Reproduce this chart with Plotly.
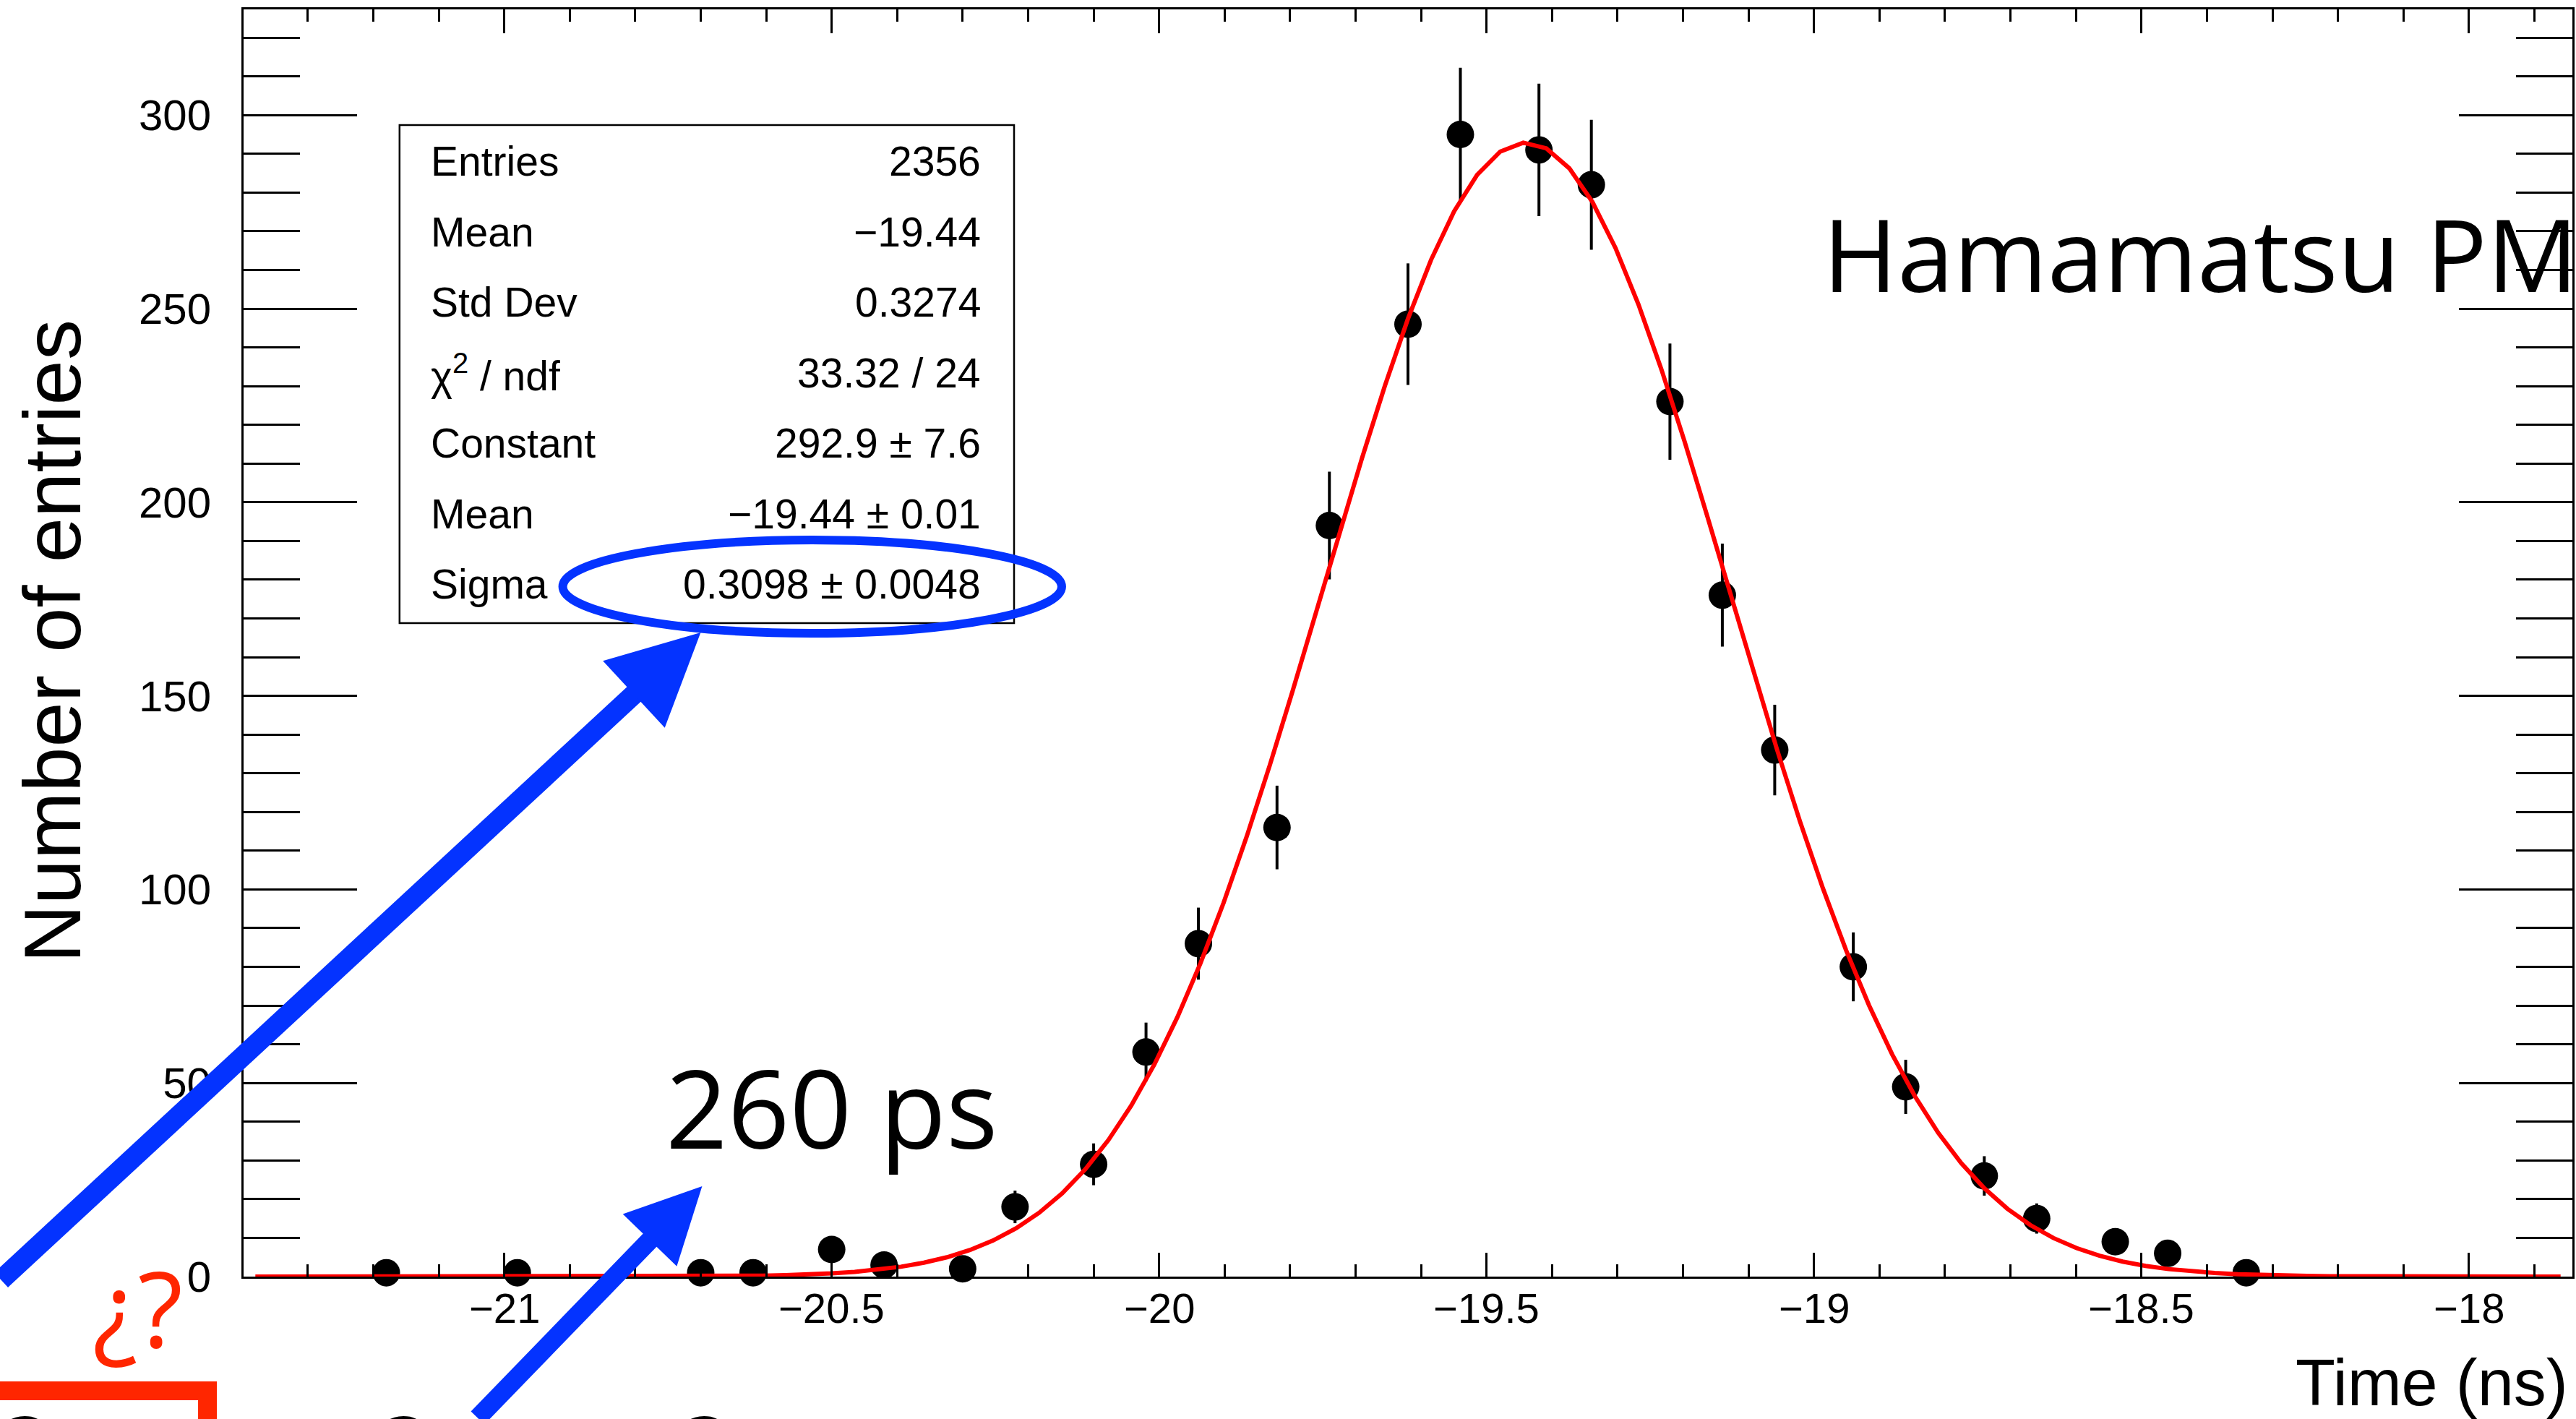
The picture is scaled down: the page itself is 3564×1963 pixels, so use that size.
import math
import plotly.graph_objects as go

# ---------------- data ----------------
bin_centers = [-21.18, -20.98, -20.70, -20.62, -20.50, -20.42, -20.30, -20.22,
               -20.10, -20.02, -19.94, -19.82, -19.74, -19.62, -19.54, -19.42,
               -19.34, -19.22, -19.14, -19.06, -18.94, -18.86, -18.74, -18.66,
               -18.54, -18.46, -18.34]
counts = [1, 1, 1, 1, 7, 3, 2, 18,
          29, 58, 86, 116, 194, 246, 295, 291,
          282, 226, 176, 136, 80, 49, 26, 15,
          9, 6, 1]
count_errors = [1.0, 1.0, 1.0, 1.0, 2.6, 1.7, 1.4, 4.2,
                5.4, 7.6, 9.3, 10.8, 13.9, 15.7, 17.2, 17.1,
                16.8, 15.0, 13.3, 11.7, 8.9, 7.0, 5.1, 3.9,
                3.0, 2.4, 1.0]

# Gaussian fit parameters (from the stat box)
FIT_CONSTANT = 292.9
FIT_MEAN = -19.44
FIT_SIGMA = 0.3098
FIT_RANGE = (-21.38, -17.86)
FIT_NPX = 100

x_tick_vals = [-21, -20.5, -20, -19.5, -19, -18.5, -18]
x_tick_text = ["\u221221", "\u221220.5", "\u221220", "\u221219.5", "\u221219", "\u221218.5", "\u221218"]

stat_labels = ["Entries", "Mean", "Std Dev", "\u03c7<sup>2</sup> / ndf",
               "Constant", "Mean", "Sigma"]
stat_values = ["2356", "\u221219.44", "0.3274", "33.32 / 24",
               "292.9 \u00b1 7.6", "\u221219.44 \u00b1 0.01", "0.3098 \u00b1 0.0048"]

x_title = "Time (ns)"
y_title = "Number of entries"

# ---------------- fit curve ----------------
fit_x = [FIT_RANGE[0] + (FIT_RANGE[1] - FIT_RANGE[0]) * i / FIT_NPX for i in range(FIT_NPX + 1)]
fit_y = [FIT_CONSTANT * math.exp(-0.5 * ((x - FIT_MEAN) / FIT_SIGMA) ** 2) for x in fit_x]

# ---------------- page geometry (pixels) ----------------
W, H = 3564, 1963
PL, PR, PT, PB = 337, 3562, 13, 1766


def px(x):
    return (x - PL) / (PR - PL)


def py(y):
    return (PB - y) / (PB - PT)


fig = go.Figure()

fig.add_trace(go.Scatter(
    x=bin_centers, y=counts, mode="markers",
    marker=dict(color="black", size=38, symbol="circle"),
    error_y=dict(type="data", array=count_errors, visible=True,
                 color="black", thickness=4, width=0),
    cliponaxis=False, hoverinfo="skip"))

fig.add_trace(go.Scatter(
    x=fit_x, y=fit_y, mode="lines",
    line=dict(color="#ff0000", width=6),
    cliponaxis=False, hoverinfo="skip"))

axis_common = dict(showgrid=False, zeroline=False, showline=True, linecolor="black",
                   linewidth=3, mirror="ticks", ticks="inside", tickcolor="black",
                   tickwidth=3)

fig.update_xaxes(range=[-21.398, -17.842], tickmode="array", tickvals=x_tick_vals,
                 ticktext=x_tick_text, showticklabels=False, ticklen=33,
                 minor=dict(dtick=0.1, tick0=-21, ticklen=17, tickwidth=3,
                            tickcolor="black", ticks="inside", showgrid=False),
                 **axis_common)
fig.update_yaxes(range=[0, 327.3], tickmode="linear", tick0=0, dtick=50,
                 ticklen=157, tickfont=dict(family="Liberation Sans", size=60, color="black"),
                 ticklabelstandoff=30,
                 minor=dict(dtick=10, tick0=0, ticklen=78, tickwidth=3,
                            tickcolor="black", ticks="inside", showgrid=False),
                 **axis_common)

shapes = []
# stat box
shapes.append(dict(type="rect", xref="paper", yref="paper",
                   x0=px(553), x1=px(1404), y0=py(862), y1=py(173),
                   line=dict(color="black", width=2.5), fillcolor="white", layer="above"))
# blue ellipse
shapes.append(dict(type="circle", xref="paper", yref="paper",
                   x0=px(779), x1=px(1470), y0=py(876), y1=py(747),
                   line=dict(color="#0433ff", width=12), fillcolor="rgba(0,0,0,0)", layer="above"))
# red box (bottom-left, cut by page)
shapes.append(dict(type="rect", xref="paper", yref="paper",
                   x0=px(-40), x1=px(287), y0=py(2030), y1=py(1924),
                   line=dict(color="#ff2600", width=26), fillcolor="rgba(0,0,0,0)", layer="above"))

annotations = []
# x tick labels (placed on the axis' own data coordinates)
for tv, tt in zip(x_tick_vals, x_tick_text):
    annotations.append(dict(xref="x", yref="paper", x=tv, y=py(1809),
                            text=tt, showarrow=False, xanchor="center", yanchor="middle",
                            font=dict(family="Liberation Sans", size=58, color="black")))

row_y = [223, 321, 418, 516, 613, 711, 808]
for lab, val, yy in zip(stat_labels, stat_values, row_y):
    annotations.append(dict(xref="paper", yref="paper", x=px(594), y=py(yy),
                            text=lab, showarrow=False, xanchor="left", yanchor="middle",
                            font=dict(family="Liberation Sans", size=57, color="black")))
    annotations.append(dict(xref="paper", yref="paper", x=px(1360), y=py(yy),
                            text=val, showarrow=False, xanchor="right", yanchor="middle",
                            font=dict(family="Liberation Sans", size=57, color="black")))

# axis titles
annotations.append(dict(xref="paper", yref="paper", x=px(3558), y=py(1913),
                        text=x_title, showarrow=False, xanchor="right", yanchor="middle",
                        font=dict(family="Liberation Sans", size=90, color="black")))
annotations.append(dict(xref="paper", yref="paper", x=px(72), y=py(887),
                        text=y_title, showarrow=False, xanchor="center", yanchor="middle",
                        textangle=-90,
                        font=dict(family="Liberation Sans", size=112, color="black")))

# slide annotations
annotations.append(dict(xref="paper", yref="paper", x=px(2522), y=py(350),
                        text="Hamamatsu PM", showarrow=False, xanchor="left", yanchor="middle",
                        font=dict(family="Open Sans", size=140, color="black")))
annotations.append(dict(xref="paper", yref="paper", x=px(920), y=py(1531),
                        text="260 ps", showarrow=False, xanchor="left", yanchor="middle",
                        font=dict(family="Open Sans", size=150, color="black")))
annotations.append(dict(xref="paper", yref="paper", x=px(190), y=py(1807),
                        text="\u00bf?", showarrow=False, xanchor="center", yanchor="middle",
                        font=dict(family="Open Sans", size=145, color="#ff2600")))
for gx in [36, 560, 977]:
    annotations.append(dict(xref="paper", yref="paper", x=px(gx), y=py(2010),
                            text="2", showarrow=False, xanchor="center", yanchor="middle",
                            font=dict(family="Open Sans", size=150, color="black")))

# blue arrows
annotations.append(dict(xref="paper", yref="paper", x=px(970), y=py(875),
                        ax=-1030, ay=897, text="", showarrow=True,
                        arrowhead=2, arrowsize=0.9, arrowwidth=28, arrowcolor="#0433ff",
                        standoff=0))
annotations.append(dict(xref="paper", yref="paper", x=px(972), y=py(1641),
                        ax=-312, ay=349, text="", showarrow=True,
                        arrowhead=2, arrowsize=0.8, arrowwidth=26, arrowcolor="#0433ff",
                        standoff=0))

fig.update_layout(width=W, height=H,
                  margin=dict(l=PL, r=W - PR, t=PT, b=H - PB, pad=0),
                  paper_bgcolor="white", plot_bgcolor="white",
                  showlegend=False, shapes=shapes, annotations=annotations,
                  font=dict(family="Liberation Sans", color="black"))

fig.write_html("out.html", config={"displayModeBar": False},
               post_script="document.body.style.margin='0px';")
